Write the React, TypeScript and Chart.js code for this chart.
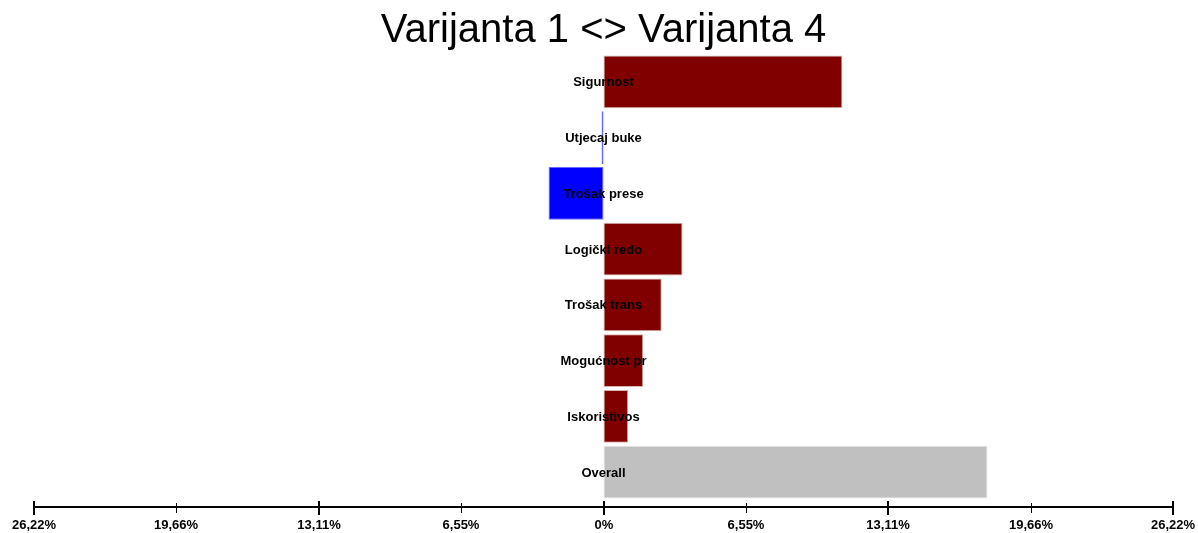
import React, { useEffect, useRef } from "react";
import { Chart, registerables } from "chart.js";

Chart.register(...registerables);

const categories = [
  "Sigurnost",
  "Utjecaj buke",
  "Trošak prese",
  "Logički redo",
  "Trošak trans",
  "Mogućnost pr",
  "Iskoristivos",
  "Overall",
];
const values = [11.0, -0.09, -2.53, 3.64, 2.68, 1.83, 1.14, 17.68];
const tickValues = [-26.22, -19.665, -13.11, -6.555, 0, 6.555, 13.11, 19.665, 26.22];
const tickLabels = ["26,22%", "19,66%", "13,11%", "6,55%", "0%", "6,55%", "13,11%", "19,66%", "26,22%"];
const axisMin = -26.22;
const axisMax = 26.22;
const titleText = "Varijanta 1 <> Varijanta 4";

const POS = "#800000";
const NEG = "#0000FF";
const OVERALL = "#C0C0C0";
const POS_EDGE = "#d8b4b4";
const NEG_EDGE = "#6a6aff";
const OVERALL_EDGE = "#e6e6e6";

const FONT = "'Liberation Sans', Arial, sans-serif";

export default function App() {
  const ref = useRef<HTMLCanvasElement | null>(null);

  useEffect(() => {
    if (!ref.current) return;
    Chart.defaults.font.family = FONT;

    const last = categories.length - 1;
    const colors = values.map((v, i) => (i === last ? OVERALL : v < 0 ? NEG : POS));
    const edges = values.map((v, i) => (i === last ? OVERALL_EDGE : v < 0 ? NEG_EDGE : POS_EDGE));

    const labelPlugin = {
      id: "centerLabels",
      afterDatasetsDraw(chart: any) {
        const { ctx, scales } = chart;
        const x0 = scales.x.getPixelForValue(0);
        ctx.save();
        ctx.fillStyle = "#000";
        ctx.font = `bold 13px ${FONT}`;
        ctx.textAlign = "center";
        ctx.textBaseline = "middle";
        chart.data.labels.forEach((lab: string, i: number) => {
          const y = scales.y.getPixelForValue(i);
          ctx.fillText(lab, x0, y + 1);
        });
        ctx.restore();
      },
    };

    const axisPlugin = {
      id: "axisLine",
      afterDraw(chart: any) {
        const { ctx, chartArea, scales } = chart;
        const xs = scales.x;
        const y0 = Math.round(chartArea.bottom) + 7;
        ctx.save();
        ctx.strokeStyle = "#000";
        ctx.lineWidth = 2;
        ctx.beginPath();
        ctx.moveTo(xs.getPixelForValue(axisMin), y0);
        ctx.lineTo(xs.getPixelForValue(axisMax), y0);
        ctx.stroke();
        ctx.fillStyle = "#000";
        ctx.font = `bold 13px ${FONT}`;
        ctx.textAlign = "center";
        ctx.textBaseline = "middle";
        tickValues.forEach((v: number, i: number) => {
          const x = Math.round(xs.getPixelForValue(v));
          const major = i % 2 === 0;
          ctx.lineWidth = major ? 2 : 1;
          ctx.beginPath();
          ctx.moveTo(major ? x : x + 0.5, y0 + (major ? -6 : -4));
          ctx.lineTo(major ? x : x + 0.5, y0 + (major ? 8 : 6));
          ctx.stroke();
          ctx.fillText(tickLabels[i], x, y0 + 18);
        });
        ctx.restore();
      },
    };

    const chart = new Chart(ref.current, {
      type: "bar",
      data: {
        labels: categories,
        datasets: [
          {
            data: values,
            backgroundColor: colors,
            borderColor: edges,
            borderWidth: 1,
            borderSkipped: false,
            barPercentage: 0.95,
            categoryPercentage: 1,
          },
        ],
      },
      options: {
        indexAxis: "y",
        animation: false,
        responsive: false,
        layout: { padding: { left: 34, right: 25, top: 0, bottom: 33 } },
        plugins: {
          legend: { display: false },
          tooltip: { enabled: false },
          title: {
            display: true,
            text: titleText,
            color: "#000",
            font: { size: 40, weight: "normal", lineHeight: 1.15 },
            padding: { top: 8, bottom: 0 },
          },
        },
        scales: {
          x: {
            type: "linear",
            min: axisMin,
            max: axisMax,
            display: false,
          },
          y: {
            display: false,
            grid: { display: false },
          },
        },
      },
      plugins: [labelPlugin, axisPlugin],
    } as any);

    return () => chart.destroy();
  }, []);

  return (
    <div style={{ position: "absolute", left: 0, top: 0, width: 1198, height: 533, background: "#fff" }}>
      <canvas ref={ref} width={1198} height={533} style={{ display: "block" }} />
    </div>
  );
}
